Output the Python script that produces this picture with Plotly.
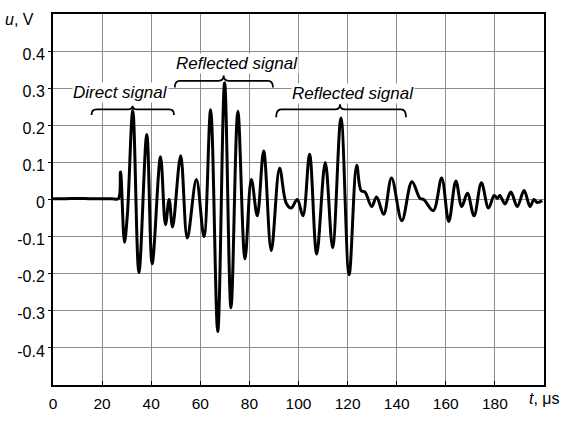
import plotly.graph_objects as go

# waveform (extrema), t in microseconds, u in volts
t_us = [0, 5, 10, 15, 20, 24, 26.6, 27.5, 29.1, 30.3, 32.5, 35.0, 38.2, 40.4, 43.8, 45.8, 47.3, 48.7,
        52.0, 54.7, 58.4, 61.5, 64.2, 67.1, 69.9, 72.5, 75.3, 78.2, 80.8, 83.2,
        85.8, 88.9, 92.3, 95.0, 97.0, 99.5, 101.8, 104.5, 107.4, 110.9, 113.9,
        117.3, 120.6, 123.7, 125.5, 127.1, 129.8, 131.8, 134.7, 137.9, 142.1,
        146.2, 149.5, 151.0, 154.9, 158.3, 161.2, 164.1, 166.5, 168.8, 171.5,
        174.5, 177.4, 179.7, 181.0, 182.0, 184.1, 186.5, 189.1, 191.9, 194.3,
        195.9, 197.2, 199.3]
u_v = [0.002, 0.002, 0.003, 0.002, 0.002, 0.002, 0.002, 0.074, -0.115, -0.04, 0.24, -0.197, 0.175, -0.173, 0.115, -0.068, 0.0, -0.074,
       0.118, -0.104, 0.054, -0.1, 0.242, -0.356, 0.315, -0.292, 0.238, -0.16, 0.054, -0.044,
       0.131, -0.138, 0.084, -0.01, -0.023, 0.0, -0.044, 0.122, -0.147, 0.1, -0.13,
       0.22, -0.203, 0.092, 0.024, 0.02, -0.019, 0.007, -0.04, 0.058, -0.057,
       0.048, 0.003, 0.0, -0.03, 0.058, -0.059, 0.05, -0.019, 0.017, -0.044,
       0.045, -0.023, 0.011, 0.003, 0.011, -0.012, 0.02, -0.019, 0.024, -0.019,
       0.0, -0.008, -0.003]

x_ticks = [0, 20, 40, 60, 80, 100, 120, 140, 160, 180]
y_ticks = [0.4, 0.3, 0.2, 0.1, 0, -0.1, -0.2, -0.3, -0.4]
y_tick_labels = ["0.4", "0.3", "0.2", "0.1", "0", "-0.1", "-0.2", "-0.3", "-0.4"]

# brace annotations: label, text x, text y, left x, tip x, right x, tip y, bar y, end y
brace_labels = ["Direct signal", "Reflected signal", "Reflected signal"]
brace_text_x = [27.6, 74.8, 122.4]
brace_text_y = [0.289, 0.366, 0.285]
brace_left = [15.7, 49.6, 90.9]
brace_tip = [32.4, 69.5, 116.9]
brace_right = [49.3, 89.6, 143.8]
brace_tip_y = [0.253, 0.334, 0.257]
brace_bar_y = [0.243, 0.320, 0.243]
brace_end_y = [0.228, 0.302, 0.222]

FONT = "Liberation Sans, Arial, sans-serif"

fig = go.Figure()
fig.add_trace(go.Scatter(x=t_us, y=u_v, mode="lines",
                         line=dict(color="black", width=3, shape="spline", smoothing=1.0),
                         hoverinfo="skip", showlegend=False))

shapes = []
dx = 2.0
for x0, xm, x1, yt, yb, ye in zip(brace_left, brace_tip, brace_right,
                                  brace_tip_y, brace_bar_y, brace_end_y):
    path = (f"M {x0},{ye} Q {x0},{yb} {x0+dx},{yb} L {xm-dx},{yb} "
            f"Q {xm},{yb} {xm},{yt} Q {xm},{yb} {xm+dx},{yb} "
            f"L {x1-dx},{yb} Q {x1},{yb} {x1},{ye}")
    shapes.append(dict(type="path", xref="x", yref="y", path=path,
                       line=dict(color="black", width=1.8)))

annotations = []
for lab, tx, ty in zip(brace_labels, brace_text_x, brace_text_y):
    annotations.append(dict(x=tx, y=ty, xref="x", yref="y", text=f"<i>{lab}</i>",
                            showarrow=False, bgcolor="white", borderpad=0,
                            font=dict(family=FONT, size=17, color="black")))
annotations.append(dict(x=0, y=1.0, xref="paper", yref="paper",
                        xanchor="right", yanchor="middle", yshift=-5,
                        xshift=-17, text="<i>u</i>, V", showarrow=False,
                        font=dict(family=FONT, size=16, color="black")))
annotations.append(dict(x=1.0, y=0, xref="paper", yref="paper",
                        xanchor="left", yanchor="top", xshift=-17, yshift=-3,
                        text="<i>t</i>, μs", showarrow=False,
                        font=dict(family=FONT, size=16, color="black")))

fig.update_layout(
    width=563, height=424,
    margin=dict(l=53, r=19, t=12, b=24),
    paper_bgcolor="white", plot_bgcolor="white",
    shapes=shapes, annotations=annotations,
    font=dict(family=FONT, size=16, color="black"),
    xaxis=dict(range=[0, 200], tickvals=x_ticks, showgrid=True,
               gridcolor="#8c8c8c", gridwidth=1, zeroline=False,
               showline=True, linecolor="black", linewidth=2, mirror=True,
               ticks="inside", ticklen=4, tickcolor="black",
               ticklabelstandoff=3,
               tickfont=dict(family=FONT, size=15.5)),
    yaxis=dict(range=[-0.5, 0.5], tickvals=y_ticks, ticktext=y_tick_labels,
               showgrid=True, gridcolor="#8c8c8c", gridwidth=1, zeroline=False,
               showline=True, linecolor="black", linewidth=2, mirror=True,
               ticks="outside", ticklen=3, tickcolor="black",
               ticklabelshift=3,
               tickfont=dict(family=FONT, size=16)),
)

fig.write_html("out.html", config={"displayModeBar": False},
               post_script="document.body.style.margin='0';document.body.style.padding='0';")
